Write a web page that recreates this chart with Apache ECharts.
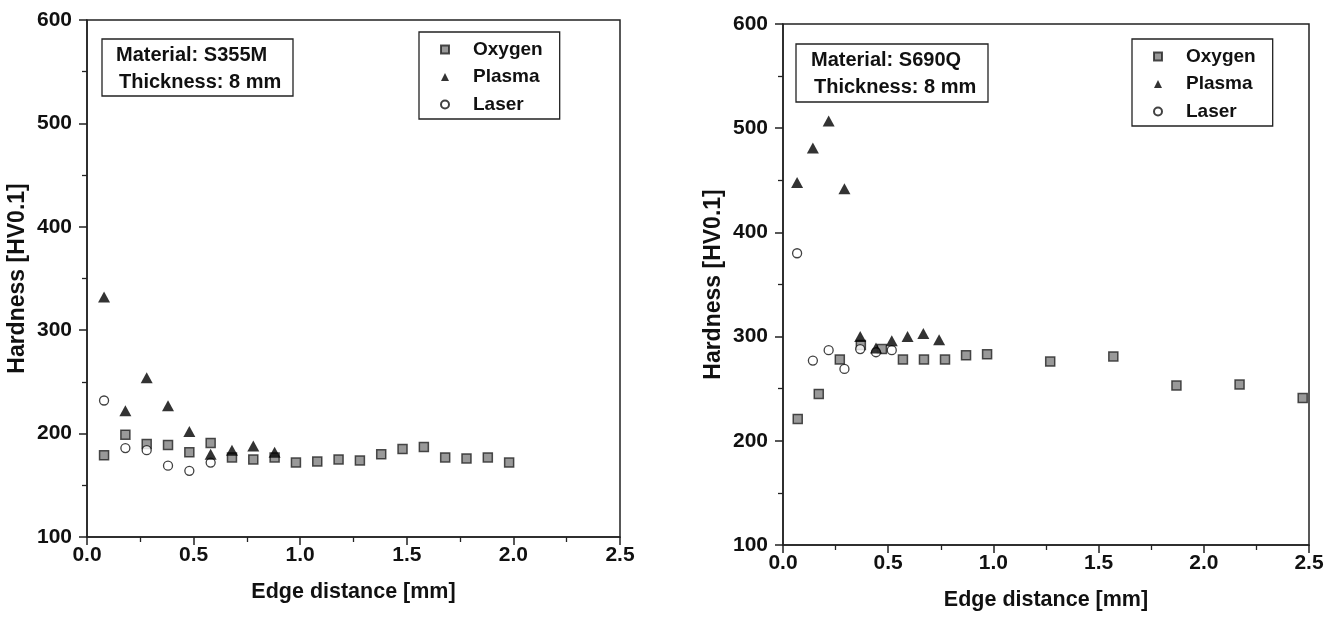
<!DOCTYPE html>
<html>
<head>
<meta charset="utf-8">
<script src="https://cdn.jsdelivr.net/npm/echarts@6/dist/echarts.min.js"></script>
<style>
  html, body { margin: 0; padding: 0; background: #fff; }
  #chart { width: 1338px; height: 619px; }
</style>
</head>
<body>
<div id="chart"></div>
<script>
// S355M (left panel)
const leftOxygenX = [0.08, 0.18, 0.28, 0.38, 0.48, 0.58, 0.68, 0.78, 0.88, 0.98, 1.08, 1.18, 1.28, 1.38, 1.48, 1.58, 1.68, 1.78, 1.88, 1.98];
const leftOxygenY = [179, 199, 190, 189, 182, 191, 177, 175, 177, 172, 173, 175, 174, 180, 185, 187, 177, 176, 177, 172];
const leftPlasmaX = [0.08, 0.18, 0.28, 0.38, 0.48, 0.58, 0.68, 0.78, 0.88];
const leftPlasmaY = [332, 222, 254, 227, 202, 180, 184, 188, 182];
const leftLaserX = [0.08, 0.18, 0.28, 0.38, 0.48, 0.58];
const leftLaserY = [232, 186, 184, 169, 164, 172];

// S690Q (right panel)
const rightOxygenX = [0.07, 0.17, 0.27, 0.37, 0.47, 0.57, 0.67, 0.77, 0.87, 0.97, 1.27, 1.57, 1.87, 2.17, 2.47];
const rightOxygenY = [221, 245, 278, 292, 288, 278, 278, 278, 282, 283, 276, 281, 253, 254, 241];
const rightPlasmaX = [0.067, 0.142, 0.217, 0.292, 0.367, 0.442, 0.517, 0.592, 0.667, 0.742];
const rightPlasmaY = [448, 481, 507, 442, 300, 289, 296, 300, 303, 297];
const rightLaserX = [0.067, 0.142, 0.217, 0.292, 0.367, 0.442, 0.517];
const rightLaserY = [380, 277, 287, 269, 288, 285, 287];

const seriesNames = ['Oxygen', 'Plasma', 'Laser'];
const xTicks = { min: 0, max: 2.5, interval: 0.5 };
const yTicks = { min: 100, max: 600, interval: 100 };

const FONT = '"Liberation Sans", Arial, sans-serif';

function pairs(xs, ys) {
  return xs.map((x, i) => [x, ys[i]]);
}

const styles = {
  Oxygen: { symbol: 'rect', symbolSize: 9, itemStyle: { color: '#808080', borderColor: '#222', borderWidth: 1.5 } },
  Plasma: { symbol: 'triangle', symbolSize: [12, 11], itemStyle: { color: '#000', borderColor: '#000', borderWidth: 0 } },
  Laser: { symbol: 'circle', symbolSize: 9, itemStyle: { color: '#fff', borderColor: '#111', borderWidth: 1.3 } }
};

function makeSeries(name, idx, data) {
  return Object.assign({
    name: name,
    type: 'scatter',
    xAxisIndex: idx,
    yAxisIndex: idx,
    data: data,
    z: name === 'Plasma' ? 3 : 2
  }, styles[name]);
}

function xAxis(idx) {
  return {
    type: 'value',
    gridIndex: idx,
    min: xTicks.min,
    max: xTicks.max,
    interval: xTicks.interval,
    name: 'Edge distance [mm]',
    nameLocation: 'middle',
    nameGap: 44,
    nameTextStyle: { fontFamily: FONT, fontWeight: 'bold', fontSize: 21.5, color: '#111' },
    axisLine: { show: true, lineStyle: { color: '#222', width: 1.5 } },
    axisTick: { show: true, inside: false, length: 8, lineStyle: { color: '#222', width: 1.5 } },
    minorTick: { show: true, splitNumber: 2, length: 5, lineStyle: { color: '#222', width: 1.3 } },
    splitLine: { show: false },
    axisLabel: {
      fontFamily: FONT, fontWeight: 'bold', fontSize: 21, color: '#111', margin: 8,
      formatter: v => v.toFixed(1)
    }
  };
}

function yAxis(idx) {
  return {
    type: 'value',
    gridIndex: idx,
    min: yTicks.min,
    max: yTicks.max,
    interval: yTicks.interval,
    name: 'Hardness [HV0.1]',
    nameLocation: 'middle',
    nameGap: 58,
    nameTextStyle: { fontFamily: FONT, fontWeight: 'bold', fontSize: 23, color: '#111' },
    axisLine: { show: true, lineStyle: { color: '#222', width: 1.5 } },
    axisTick: { show: true, inside: false, length: 8, lineStyle: { color: '#222', width: 1.5 } },
    minorTick: { show: true, splitNumber: 2, length: 5, lineStyle: { color: '#222', width: 1.3 } },
    splitLine: { show: false },
    axisLabel: { fontFamily: FONT, fontWeight: 'bold', fontSize: 21, color: '#111', margin: 15 }
  };
}

function legend(left, top) {
  return {
    orient: 'vertical',
    left: left,
    top: top,
    data: seriesNames,
    itemWidth: 8,
    itemHeight: 8,
    itemGap: 8.5,
    padding: [8, 17, 5, 21],
    borderColor: '#222',
    borderWidth: 1.3,
    backgroundColor: '#fff',
    selectedMode: false,
    textStyle: { fontFamily: FONT, fontWeight: 'bold', fontSize: 19, lineHeight: 18, color: '#111', padding: [0, 0, 0, 19] }
  };
}

function infoBox(x, y, w, h, lines, tx) {
  return {
    type: 'group',
    children: [
      { type: 'rect', shape: { x: x, y: y, width: w, height: h }, style: { fill: '#fff', stroke: '#222', lineWidth: 1.3 } },
      { type: 'text', x: tx, y: y + 16, style: { text: lines[0], font: 'bold 20px ' + FONT, fill: '#111', textVerticalAlign: 'middle' } },
      { type: 'text', x: tx + 3, y: y + 43, style: { text: lines[1], font: 'bold 20px ' + FONT, fill: '#111', textVerticalAlign: 'middle' } }
    ]
  };
}

const chart = echarts.init(document.getElementById('chart'), null, { renderer: 'canvas' });
const option = {
  animation: false,
  backgroundColor: '#fff',
  grid: [
    { left: 87, top: 20, width: 533, height: 517, show: true, borderColor: '#222', borderWidth: 1.5, backgroundColor: 'transparent' },
    { left: 783, top: 24, width: 526, height: 521, show: true, borderColor: '#222', borderWidth: 1.5, backgroundColor: 'transparent' }
  ],
  xAxis: [xAxis(0), xAxis(1)],
  yAxis: [yAxis(0), yAxis(1)],
  legend: [legend(419, 32), legend(1132, 39)],
  graphic: [
    infoBox(102, 39, 191, 57, ['Material: S355M', 'Thickness: 8 mm'], 116),
    infoBox(796, 44, 192, 58, ['Material: S690Q', 'Thickness: 8 mm'], 811)
  ],
  series: [
    makeSeries('Oxygen', 0, pairs(leftOxygenX, leftOxygenY)),
    makeSeries('Plasma', 0, pairs(leftPlasmaX, leftPlasmaY)),
    makeSeries('Laser', 0, pairs(leftLaserX, leftLaserY)),
    makeSeries('Oxygen', 1, pairs(rightOxygenX, rightOxygenY)),
    makeSeries('Plasma', 1, pairs(rightPlasmaX, rightPlasmaY)),
    makeSeries('Laser', 1, pairs(rightLaserX, rightLaserY))
  ]
};
chart.setOption(option);
</script>
</body>
</html>
